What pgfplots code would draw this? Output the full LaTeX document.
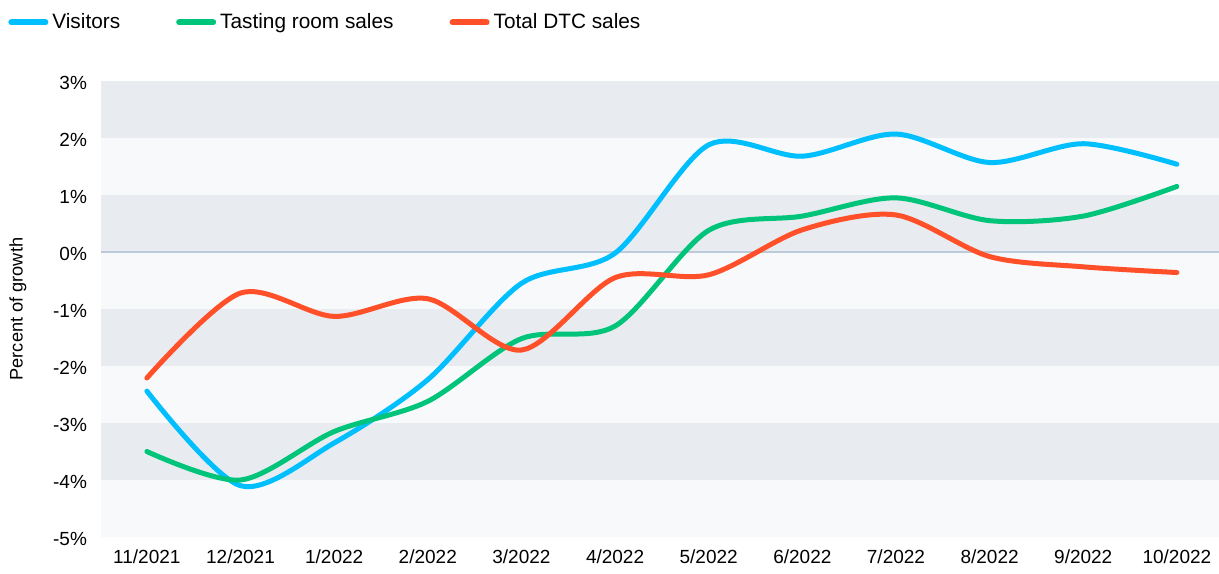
\documentclass[border=0pt]{standalone}
\usepackage{pgfplots}
\pgfplotsset{compat=1.18}
\usepackage{fontspec}
\setmainfont{Liberation Sans}
\definecolor{cVis}{HTML}{00BFFF}
\definecolor{cTas}{HTML}{00C47A}
\definecolor{cDtc}{HTML}{FF5029}
\definecolor{bandD}{HTML}{E8EBEF}
\definecolor{bandL}{HTML}{F8F9FB}
\definecolor{zeroL}{HTML}{BCCADA}
\begin{document}
\begin{tikzpicture}
\begin{axis}[
  name=ax,
  scale only axis,
  width=559pt, height=228pt,
  xmin=-0.49, xmax=11.45,
  ymin=-5, ymax=3,
  axis line style={draw=none},
  tick style={draw=none},
  xtick={0,...,11},
  xticklabels={11/2021,12/2021,1/2022,2/2022,3/2022,4/2022,5/2022,6/2022,7/2022,8/2022,9/2022,10/2022},
  ytick={-5,...,3},
  yticklabels={-5\%,-4\%,-3\%,-2\%,-1\%,0\%,1\%,2\%,3\%},
  major tick length=0pt,
  tick label style={font=\fontsize{9.5pt}{11pt}\selectfont, text=black},
  xticklabel style={yshift=-3pt},
  yticklabel style={xshift=-3.5pt, yshift=-0.8pt},
  ylabel={Percent of growth},
  ylabel style={at={(axis description cs:-0.0742,0.5)}, anchor=center, font=\fontsize{9.1pt}{11pt}\selectfont},
  legend columns=-1,
  legend style={draw=none, fill=none, at={(axis description cs:-0.0832,1.158)}, anchor=north west,
    font=\fontsize{10.4pt}{12pt}\selectfont, inner sep=0pt,
    /tikz/every even column/.append style={column sep=26pt}},
  legend image code/.code={\draw[#1, line width=3pt, line cap=round] (0pt,0pt) -- (17pt,0pt);},
  clip=false,
]
\fill[bandD] (axis cs:-0.49,2) rectangle (axis cs:11.45,3);
\fill[bandL] (axis cs:-0.49,1) rectangle (axis cs:11.45,2);
\fill[bandD] (axis cs:-0.49,0) rectangle (axis cs:11.45,1);
\fill[bandL] (axis cs:-0.49,-1) rectangle (axis cs:11.45,0);
\fill[bandD] (axis cs:-0.49,-2) rectangle (axis cs:11.45,-1);
\fill[bandL] (axis cs:-0.49,-3) rectangle (axis cs:11.45,-2);
\fill[bandD] (axis cs:-0.49,-4) rectangle (axis cs:11.45,-3);
\fill[bandL] (axis cs:-0.49,-5) rectangle (axis cs:11.45,-4);
\draw[zeroL, line width=0.6pt] (axis cs:-0.49,0) -- (axis cs:11.45,0);
\addplot[cVis, line width=2.5pt, line cap=round, smooth, tension=0.5] coordinates {
 (0,-2.44) (1,-4.10) (2,-3.35) (3,-2.24) (4,-0.55) (5,-0.02) (6,1.88) (7,1.68) (8,2.07) (9,1.57) (10,1.90) (11,1.54)};
\addlegendentry{Visitors}
\addplot[cTas, line width=2.5pt, line cap=round, smooth, tension=0.5] coordinates {
 (0,-3.50) (1,-4.00) (2,-3.15) (3,-2.62) (4,-1.52) (5,-1.30) (6,0.38) (7,0.63) (8,0.95) (9,0.55) (10,0.63) (11,1.15)};
\addlegendentry{Tasting room sales}
\addplot[cDtc, line width=2.5pt, line cap=round, smooth, tension=0.5] coordinates {
 (0,-2.21) (1,-0.72) (2,-1.13) (3,-0.82) (4,-1.72) (5,-0.45) (6,-0.40) (7,0.39) (8,0.65) (9,-0.08) (10,-0.26) (11,-0.36)};
\addlegendentry{Total DTC sales}
\end{axis}
\pgfresetboundingbox
\path[use as bounding box] (ax.south west) ++(-50.5pt,-18pt) rectangle ++(609.5pt,286.5pt);
\end{tikzpicture}
\end{document}
